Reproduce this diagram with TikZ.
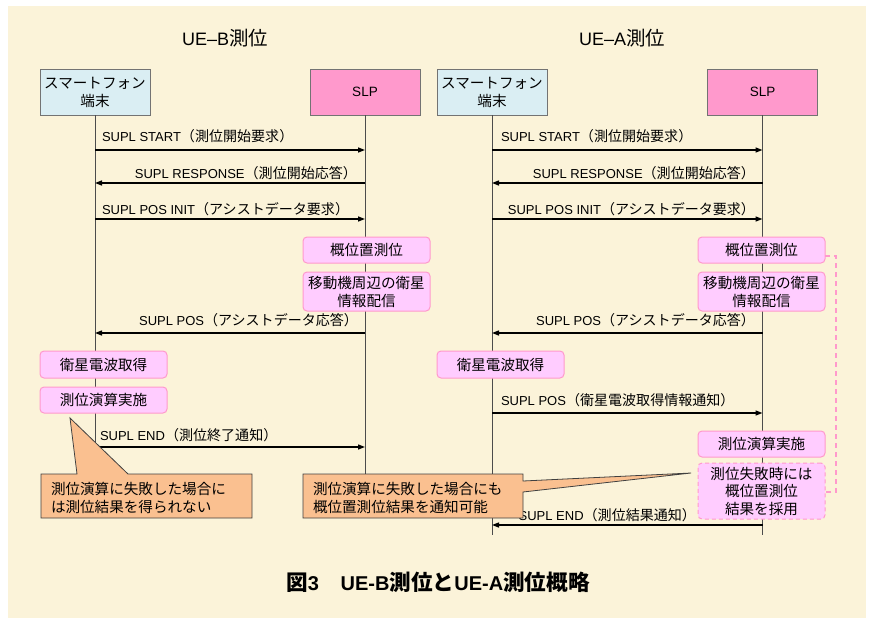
\documentclass[tikz,border=0pt]{standalone}
\usepackage{fontspec}
\usetikzlibrary{arrows.meta}
\setmainfont{Liberation Sans}
\newfontfamily\jpfont[Scale=1.08]{Noto Sans CJK JP}
\XeTeXinterchartokenstate=1
\chardef\jpclass=3
\makeatletter
\count@="3000 \loop \XeTeXcharclass\count@=\jpclass \advance\count@ 1 \ifnum\count@<"3100 \repeat
\count@="4E00 \loop \XeTeXcharclass\count@=\jpclass \advance\count@ 1 \ifnum\count@<"A000 \repeat
\count@="FF00 \loop \XeTeXcharclass\count@=\jpclass \advance\count@ 1 \ifnum\count@<"FFF0 \repeat
\makeatother
\XeTeXinterchartoks 0 \jpclass = {\jpfont}
\XeTeXinterchartoks 4095 \jpclass = {\jpfont}
\XeTeXinterchartoks \jpclass 0 = {\rmfamily}
\XeTeXinterchartoks \jpclass 4095 = {\rmfamily}
\definecolor{bgcream}{HTML}{FBF3D9}
\definecolor{phonefill}{HTML}{DAEEF3}
\definecolor{slpfill}{HTML}{FF99CC}
\definecolor{procfill}{HTML}{FFCCFF}
\definecolor{pinkedge}{HTML}{FF99CC}
\definecolor{calloutfill}{HTML}{FAC090}
\begin{document}
\begin{tikzpicture}[x=1pt,y=-1pt,
  every node/.style={inner sep=0pt, outer sep=0pt, text=black},
  lbl/.style={font=\fontsize{13}{15}\selectfont},
  ttl/.style={font=\fontsize{18}{20}\selectfont},
  head/.style={draw=black!55, line width=0.8pt, minimum width=110pt, minimum height=46pt, align=center, font=\fontsize{13.5}{18}\selectfont},
  proc/.style={draw=pinkedge, fill=procfill, line width=1pt, rounded corners=4pt, minimum width=127pt, align=center, font=\fontsize{13.5}{18}\selectfont},
  life/.style={draw=black!70, line width=0.8pt},
  msg/.style={draw=black, line width=1.3pt, -{Triangle[length=7pt,width=5pt]}},
  callout/.style={draw=black!75, fill=calloutfill, line width=0.8pt},
  calltext/.style={align=left, anchor=west, font=\fontsize{13.5}{18}\selectfont},
  bracket/.style={draw=pinkedge, line width=1.2pt, dash pattern=on 5pt off 4pt},
]
\useasboundingbox (0,0) rectangle (872,621);
\fill[white] (0,0) rectangle (872,621);
\fill[bgcream] (8,6) rectangle (866,618);

% titles
\node[ttl] (tB) at (225,38) {UE–B測位};
\node[ttl] (tA) at (622,38) {UE–A測位};

% heads
\node[head, fill=phonefill] (phB) at (95,92) {スマートフォン\\端末};
\node[head, fill=slpfill] (slpB) at (365,92) {SLP};
\node[head, fill=phonefill] (phA) at (492,92) {スマートフォン\\端末};
\node[head, fill=slpfill] (slpA) at (762.5,92) {SLP};

% y levels
\coordinate (y1) at (0,150);
\coordinate (y2) at (0,183);
\coordinate (y3) at (0,219);
\coordinate (y4) at (0,333);
\coordinate (y5) at (0,413);
\coordinate (y6) at (0,447);
\coordinate (y7) at (0,525);
\coordinate (yB) at (0,495);
\coordinate (yA) at (0,535);

% lifelines
\draw[life] (phB.south) -- (phB.south |- yB);
\draw[life] (slpB.south) -- (slpB.south |- yB);
\draw[life] (phA.south) -- (phA.south |- yA);
\draw[life] (slpA.south) -- (slpA.south |- yA);

% UE-B messages
\draw[msg] (phB.south |- y1) -- (slpB.south |- y1);
\draw[msg] (slpB.south |- y2) -- (phB.south |- y2);
\draw[msg] (phB.south |- y3) -- (slpB.south |- y3);
\draw[msg] (slpB.south |- y4) -- (phB.south |- y4);
\draw[msg] (phB.south |- y6) -- (slpB.south |- y6);
\node[lbl, anchor=base west] (lb1) at (102,141) {SUPL START（測位開始要求）};
\node[lbl, anchor=base east] (lb2) at (357,178) {SUPL RESPONSE（測位開始応答）};
\node[lbl, anchor=base west] (lb3) at (102,214) {SUPL POS INIT（アシストデータ要求）};
\node[lbl, anchor=base east] (lb4) at (358,325) {SUPL POS（アシストデータ応答）};
\node[lbl, anchor=base west] (lb6) at (100,440) {SUPL END（測位終了通知）};

% UE-A messages
\draw[msg] (phA.south |- y1) -- (slpA.south |- y1);
\draw[msg] (slpA.south |- y2) -- (phA.south |- y2);
\draw[msg] (phA.south |- y3) -- (slpA.south |- y3);
\draw[msg] (slpA.south |- y4) -- (phA.south |- y4);
\draw[msg] (phA.south |- y5) -- (slpA.south |- y5);
\draw[msg] (slpA.south |- y7) -- (phA.south |- y7);
\node[lbl, anchor=base west] (la1) at (501,141) {SUPL START（測位開始要求）};
\node[lbl, anchor=base east] (la2) at (755,178) {SUPL RESPONSE（測位開始応答）};
\node[lbl, anchor=base east] (la3) at (755,214) {SUPL POS INIT（アシストデータ要求）};
\node[lbl, anchor=base east] (la4) at (755,325) {SUPL POS（アシストデータ応答）};
\node[lbl, anchor=base west] (la5) at (501,405) {SUPL POS（衛星電波取得情報通知）};
\node[lbl, anchor=base east] (la7) at (696,520) {SUPL END（測位結果通知）};

% process boxes UE-B
\node[proc, minimum height=26pt] (pb1) at (366.5,250) {概位置測位};
\node[proc, minimum height=39pt] (pb2) at (366.5,291.5) {移動機周辺の衛星\\情報配信};
\node[proc, minimum height=27pt] (pb3) at (103.5,364.5) {衛星電波取得};
\node[proc, minimum height=26pt] (pb4) at (103.5,400) {測位演算実施};

% process boxes UE-A
\node[proc, minimum height=26pt] (pa1) at (761.5,250) {概位置測位};
\node[proc, minimum height=39pt] (pa2) at (761.5,291.5) {移動機周辺の衛星\\情報配信};
\node[proc, minimum height=27pt] (pa3) at (500.5,364.5) {衛星電波取得};
\node[proc, minimum height=26pt] (pa4) at (761.5,444) {測位演算実施};
\node[proc, minimum height=56pt, dash pattern=on 4pt off 3pt, font=\fontsize{13.5}{17.5}\selectfont] (pa5) at (761.5,491) {測位失敗時には\\概位置測位\\結果を採用};

% dashed bracket
\coordinate (brTop) at (836,256);
\coordinate (brBot) at (836,492);
\draw[bracket] (pa1.east |- brTop) -- (brTop) -- (brBot) -- (pa5.east |- brBot);

% callouts
\coordinate (tipB) at (70,418);
\draw[callout] (41,474) -- (77,474) -- (tipB) -- (128,474) -- (252,474) -- (252,518) -- (41,518) -- cycle;
\node[calltext] (cB) at (51,498) {測位演算に失敗した場合に\\は測位結果を得られない};

\coordinate (tipM) at (691,473);
\draw[callout] (303,474) -- (523,474) -- (523,481) -- (tipM) -- (523,492) -- (523,518) -- (303,518) -- cycle;
\node[calltext] (cM) at (313,498) {測位演算に失敗した場合にも\\概位置測位結果を通知可能};

% caption
\node[font=\bfseries\fontsize{20}{22}\selectfont] (cap) at (438,582) {図3　UE-B測位とUE-A測位概略};
\end{tikzpicture}
\end{document}
